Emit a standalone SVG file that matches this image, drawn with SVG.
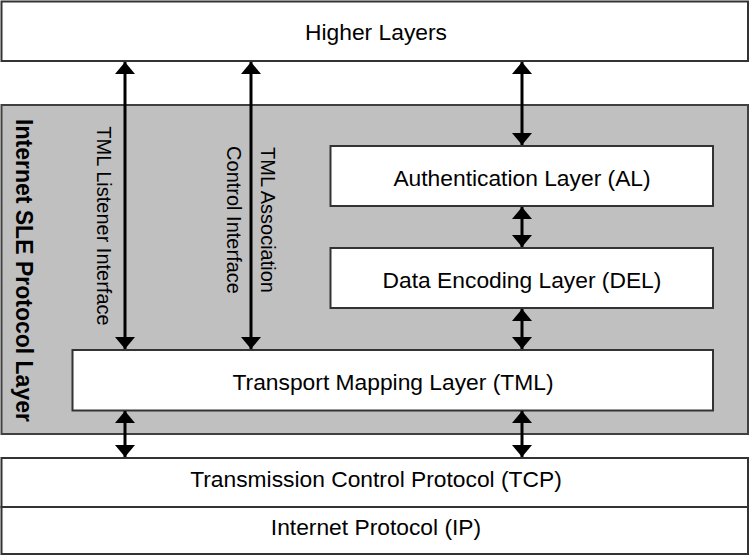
<svg xmlns="http://www.w3.org/2000/svg" width="749" height="556" viewBox="0 0 749 556">
<defs>
<style>
.box{fill:#ffffff;stroke:#333333;stroke-width:2}
.panel{fill:#c0c0c0;stroke:#404040;stroke-width:2}
.t{font-family:"Liberation Sans",Arial,sans-serif;font-size:22.8px;fill:#000;text-anchor:middle}
.v{font-family:"Liberation Sans",Arial,sans-serif;font-size:20px;fill:#000;text-anchor:middle}
.b{font-family:"Liberation Sans",Arial,sans-serif;font-size:23px;font-weight:bold;fill:#000;text-anchor:middle}
.c{stroke:#000;stroke-width:3;fill:none;marker-start:url(#ah);marker-end:url(#ah)}
</style>
<marker id="ah" viewBox="0 0 12 20" refX="12" refY="10" markerWidth="12" markerHeight="20" markerUnits="userSpaceOnUse" orient="auto-start-reverse">
<path d="M0,0 L12,10 L0,20 Z" fill="#000"/>
</marker>
</defs>
<g id="panel">
<rect class="panel" x="1.5" y="105" width="746.5" height="329"/>
<text class="b" transform="translate(16,270.5) rotate(90)">Internet SLE Protocol Layer</text>
</g>
<g id="higher">
<rect class="box" x="1.5" y="1.5" width="746.5" height="59.5"/>
<text class="t" x="376" y="40">Higher Layers</text>
</g>
<g id="al">
<rect class="box" x="330.5" y="146" width="382.5" height="60"/>
<text class="t" x="522" y="186">Authentication Layer (AL)</text>
</g>
<g id="del">
<rect class="box" x="330.5" y="248" width="382.5" height="60"/>
<text class="t" x="522" y="288">Data Encoding Layer (DEL)</text>
</g>
<g id="tml">
<rect class="box" x="72.5" y="350" width="640.5" height="60.5"/>
<text class="t" x="393" y="390">Transport Mapping Layer (TML)</text>
</g>
<g id="tcp">
<rect class="box" x="1.5" y="458" width="746.5" height="49"/>
<text class="t" x="376" y="487">Transmission Control Protocol (TCP)</text>
</g>
<g id="ip">
<rect class="box" x="1.5" y="507" width="746.5" height="47"/>
<text class="t" x="376" y="535">Internet Protocol (IP)</text>
</g>
<g id="labels">
<text class="v" transform="translate(97,226) rotate(90)">TML Listener Interface</text>
<text class="v" transform="translate(261,220) rotate(90)">TML Association</text>
<text class="v" transform="translate(227,220) rotate(90)">Control Interface</text>
</g>
<g id="connectors">
<line class="c" x1="125" y1="62" x2="125" y2="349"/>
<line class="c" x1="251" y1="62" x2="251" y2="349"/>
<line class="c" x1="522" y1="62" x2="522" y2="145"/>
<line class="c" x1="522" y1="207" x2="522" y2="247"/>
<line class="c" x1="522" y1="309" x2="522" y2="349"/>
<line class="c" x1="125" y1="411" x2="125" y2="457"/>
<line class="c" x1="522" y1="411" x2="522" y2="457"/>
</g>
</svg>
